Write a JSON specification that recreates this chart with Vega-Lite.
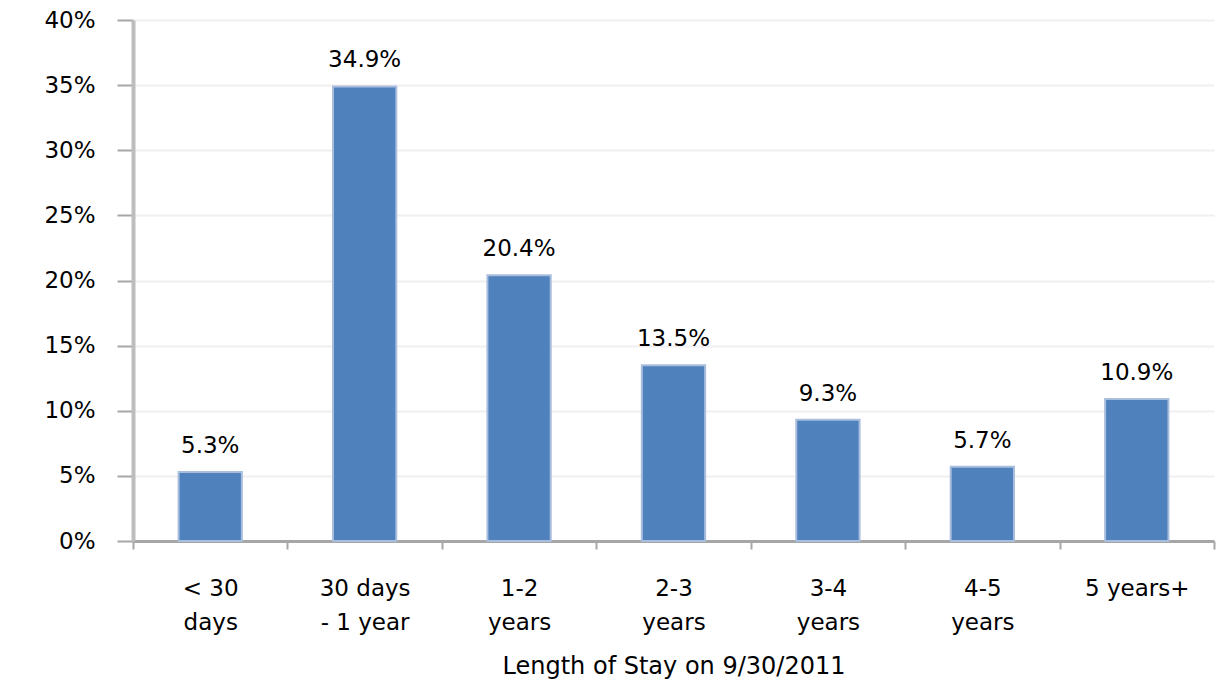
{
  "$schema": "https://vega.github.io/schema/vega-lite/v6.json",
  "autosize": {"type": "none"},
  "padding": {"left": 133, "top": 20, "right": 7, "bottom": 141},
  "width": 1081,
  "height": 521,
  "background": "white",
  "config": {
    "view": {"stroke": null},
    "font": "DejaVu Sans"
  },
  "data": {
    "values": [
      {"stay": "< 30|days", "share": 0.053},
      {"stay": "30 days|- 1 year", "share": 0.349},
      {"stay": "1-2|years", "share": 0.204},
      {"stay": "2-3|years", "share": 0.135},
      {"stay": "3-4|years", "share": 0.093},
      {"stay": "4-5|years", "share": 0.057},
      {"stay": "5 years+", "share": 0.109}
    ]
  },
  "encoding": {
    "x": {
      "field": "stay",
      "type": "nominal",
      "sort": null,
      "scale": {"paddingInner": 0, "paddingOuter": 0},
      "axis": {
        "title": "Length of Stay on 9/30/2011",
        "titleFont": "DejaVu Sans",
        "titleFontSize": 24,
        "titleFontWeight": "normal",
        "titleColor": "#000000",
        "titlePadding": 20,
        "labelAngle": 0,
        "labelFont": "DejaVu Sans",
        "labelFontSize": 23,
        "labelColor": "#000000",
        "labelLineHeight": 34,
        "labelPadding": 28,
        "labelExpr": "split(datum.label, '|')",
        "tickBand": "extent",
        "tickSize": 8,
        "tickColor": "#A6A6A6",
        "tickWidth": 2,
        "domainColor": "#A6A6A6",
        "domainWidth": 3,
        "grid": false
      }
    },
    "y": {
      "field": "share",
      "type": "quantitative",
      "scale": {"domain": [0, 0.4], "nice": false},
      "axis": {
        "title": null,
        "format": ".0%",
        "values": [0, 0.05, 0.1, 0.15, 0.2, 0.25, 0.3, 0.35, 0.4],
        "labelFont": "DejaVu Sans",
        "labelFontSize": 23,
        "labelColor": "#000000",
        "labelPadding": 22,
        "tickSize": 16,
        "tickColor": "#A6A6A6",
        "tickWidth": 2,
        "domainColor": "#BDBDBD",
        "domainWidth": 4,
        "grid": true,
        "gridColor": "#F0F0F0",
        "gridWidth": 2
      }
    }
  },
  "layer": [
    {
      "mark": {"type": "bar", "width": {"band": 0.41}, "color": "#4F81BD", "stroke": "#A9BEDD", "strokeWidth": 2}
    },
    {
      "mark": {"type": "text", "baseline": "bottom", "dy": -14, "font": "DejaVu Sans", "fontSize": 23, "color": "#000000"},
      "encoding": {
        "text": {"field": "share", "type": "quantitative", "format": ".1%"}
      }
    }
  ]
}
